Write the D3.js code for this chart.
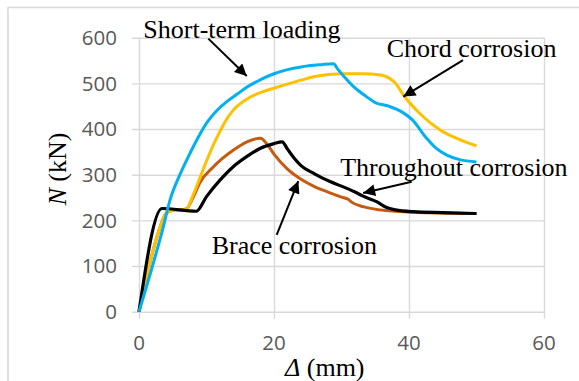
<!DOCTYPE html>
<html><head><meta charset="utf-8">
<script src="https://cdn.jsdelivr.net/npm/d3@7"></script>
<style>body{margin:0;background:#fff}svg{display:block}</style>
</head><body>
<svg id="c" width="579" height="381"></svg>
<script>
const xTicks = [0, 20, 40, 60];
const yTicks = [0, 100, 200, 300, 400, 500, 600];

const shortTerm = [[0,0],[2,100],[3.5,180],[4.6,245],[6,298],[7.1,333],[8,360],[9,388],[10,413],[11.5,440],[13,460],[14.5,476],[16,492],[18,508],[20,521],[22,530],[24,536],[27,541],[28.8,543],[29.5,530],[30.8,508],[32,490],[33.7,471],[35,458],[37,450],[39,437],[40.5,420],[42.6,380],[44,358],[45.6,343],[47.5,333],[50,328]];
const chord = [[0,0],[1.5,100],[3,180],[4,215],[5,222],[7,224],[8,255],[9,292],[10,330],[11,365],[12,395],[13,422],[14,442],[16,466],[19,485],[21,494],[24,507],[26,515],[30,521],[33,521],[36,518],[37,512],[38,500],[39.2,474],[41.6,434],[44.6,398],[47,380],[50,363]];
const brace = [[0,0],[1.5,100],[3,180],[4,215],[5,222],[7,225],[8,250],[9,282],[11,317],[14,354],[16,372],[18,380],[19,366],[20,345],[22,312],[24,290],[26,274],[28,262],[30,251],[31,246],[31.5,240],[33.2,230],[35.7,223],[40.6,218],[50,215]];
const throughout = [[0,0],[3.4,226],[8.5,220],[10,252],[12,288],[14,318],[16,340],[18,358],[20,368],[21.2,372],[22,356],[23,336],[24,320],[26,302],[28.3,285],[30,275],[32,262],[33.2,253],[35.2,241],[36.7,228],[38,223],[40.6,219],[45,217],[50,215]];

const seriesNames = ["Brace corrosion", "Chord corrosion", "Throughout corrosion", "Short-term loading"];
const seriesData = [brace, chord, throughout, shortTerm];
const seriesColors = ["#c55a11", "#ffc000", "#000000", "#00b0f0"];
const seriesWidths = [3, 3, 3.2, 3];

// annotation text [x, y] in data units (start of text baseline), arrow [from, to]
const labels = [
  {text: "Short-term loading", at: [0.64, 600], arrow: [[10.27, 598], [15.96, 516]]},
  {text: "Chord corrosion", at: [36.7, 557.5], arrow: [[48.0, 551], [39.16, 471]]},
  {text: "Throughout corrosion", at: [29.8, 297], arrow: [[40.4, 284.6], [33.2, 260]]},
  {text: "Brace corrosion", at: [10.77, 125.7], arrow: [[20.4, 168], [23.6, 286]]}
];

const svg = d3.select("#c");
const x = d3.scaleLinear().domain([0, 60]).range([139, 544]);
const y = d3.scaleLinear().domain([0, 600]).range([311.7, 37.7]);
const grid = "#d9d9d9";

// outer chart border
svg.append("rect").attr("x", 8).attr("y", 7.5).attr("width", 620).attr("height", 420)
  .attr("fill", "none").attr("stroke", grid).attr("stroke-width", 1.5);

// horizontal grid + y ticks
const yAxis = d3.axisLeft(y).tickValues(yTicks).tickSize(-(x(60) - x(0))).tickPadding(0).tickFormat("");
const gy = svg.append("g").attr("transform", `translate(${x(0)},0)`).call(yAxis);
gy.select(".domain").remove();
gy.selectAll("line").attr("stroke", grid).attr("stroke-width", 1.4).attr("x1", -7);

// vertical grid + x ticks
const xAxis = d3.axisBottom(x).tickValues(xTicks).tickSize(-(y(0) - y(600))).tickFormat("");
const gx = svg.append("g").attr("transform", `translate(0,${y(0)})`).call(xAxis);
gx.select(".domain").remove();
gx.selectAll("line").attr("stroke", grid).attr("stroke-width", 1.4).attr("y1", 7);

// tick labels
svg.append("g").selectAll("text").data(yTicks).join("text")
  .attr("x", 117).attr("y", d => y(d)).attr("dy", "0.35em")
  .attr("text-anchor", "end").attr("font-family", "Open Sans").attr("font-size", 20.5)
  .attr("fill", "#595959").text(d => d);
svg.append("g").selectAll("text").data(xTicks).join("text")
  .attr("x", d => x(d)).attr("y", 350)
  .attr("text-anchor", "middle").attr("font-family", "Open Sans").attr("font-size", 20.5)
  .attr("fill", "#595959").text(d => d);

// axis titles
const yt = svg.append("text").attr("transform", "translate(66,169) rotate(-90)")
  .attr("text-anchor", "middle").attr("font-family", "Liberation Serif").attr("font-size", 26).attr("fill", "#000");
yt.append("tspan").attr("font-style", "italic").text("N");
yt.append("tspan").text(" (kN)");
const xt = svg.append("text").attr("x", 285).attr("y", 376)
  .attr("font-family", "Liberation Serif").attr("font-size", 26).attr("fill", "#000");
xt.append("tspan").attr("font-style", "italic").text("Δ");
xt.append("tspan").text(" (mm)");

// lines
const line = d3.line().x(d => x(d[0])).y(d => y(d[1])).curve(d3.curveMonotoneX);
seriesData.forEach((s, i) => {
  svg.append("path").datum(s).attr("d", line).attr("fill", "none")
    .attr("stroke", seriesColors[i]).attr("stroke-width", seriesWidths[i])
    .attr("stroke-linejoin", "round").attr("stroke-linecap", "butt");
});

// arrows
const defs = svg.append("defs");
defs.append("marker").attr("id", "ah").attr("viewBox", "0 0 10 10").attr("refX", 10).attr("refY", 5)
  .attr("markerWidth", 15).attr("markerHeight", 12).attr("markerUnits", "userSpaceOnUse").attr("orient", "auto")
  .append("path").attr("d", "M0,0 L10,5 L0,10 Z").attr("fill", "#000");

labels.forEach(l => {
  svg.append("line").attr("x1", x(l.arrow[0][0])).attr("y1", y(l.arrow[0][1]))
    .attr("x2", x(l.arrow[1][0])).attr("y2", y(l.arrow[1][1]))
    .attr("stroke", "#000").attr("stroke-width", 2).attr("marker-end", "url(#ah)");
  svg.append("text").attr("x", x(l.at[0])).attr("y", y(l.at[1]))
    .attr("font-family", "Liberation Serif").attr("font-size", 26).attr("fill", "#000").text(l.text);
});
</script>
</body></html>
